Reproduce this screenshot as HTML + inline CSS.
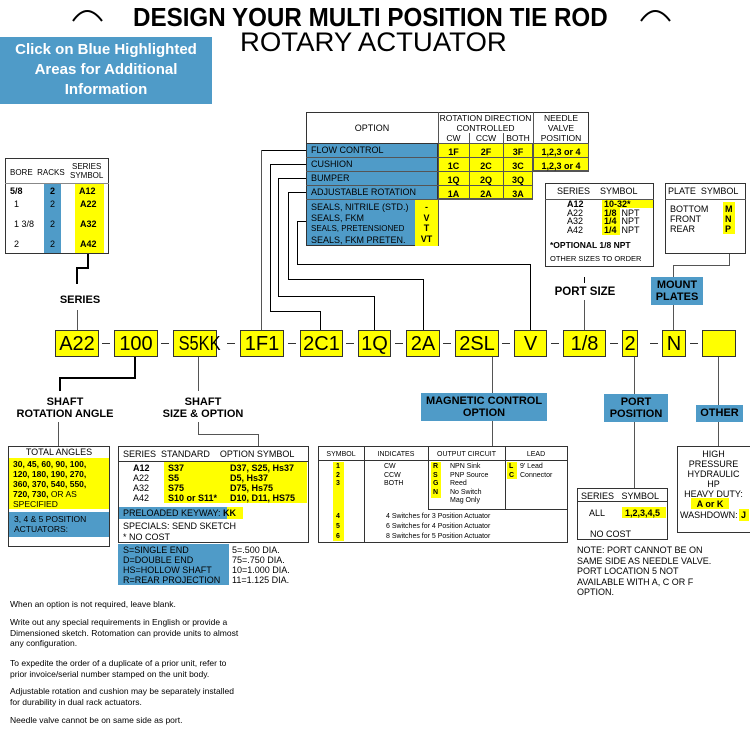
<!DOCTYPE html>
<html><head><meta charset="utf-8">
<style>
*{margin:0;padding:0;box-sizing:border-box}
body{width:750px;height:730px;background:#fff;position:relative;overflow:hidden;font-family:"Liberation Sans",Arial,sans-serif;color:#000}
.a{position:absolute}
.h{position:absolute;height:1px;background:#000}
.v{position:absolute;width:1px;background:#000}
.blue{background:#4f9bc8}
.yel{background:#ffff00}
.code{position:absolute;top:330px;height:27px;background:#ffff00;border:1px solid #333;font-size:20px;text-align:center;line-height:26px;white-space:nowrap}
.dash{position:absolute;top:343px;width:8px;height:1px;background:#333}
.lbl{position:absolute;font-weight:bold;font-size:11px;text-align:center;line-height:12px}
.bx{position:absolute;border:1px solid #333;background:#fff}
.t{position:absolute;font-size:9px;line-height:10px;white-space:nowrap}
.b{font-weight:bold}
.m{font-size:7px}
</style></head><body>

<!-- title -->
<svg class="a" style="left:70px;top:5px" width="36" height="18"><path d="M3 16 Q17 -4 32 16" fill="none" stroke="#000" stroke-width="2"/></svg>
<svg class="a" style="left:638px;top:5px" width="36" height="18"><path d="M3 16 Q17 -4 32 16" fill="none" stroke="#000" stroke-width="2"/></svg>
<div class="a b" style="left:133px;top:3px;font-size:26px;line-height:28px;white-space:nowrap;transform:scaleX(0.93);transform-origin:0 0;width:600px">DESIGN YOUR MULTI POSITION TIE ROD</div>
<div class="a" style="left:240px;top:28px;font-size:27px;line-height:28px;white-space:nowrap;transform:scaleX(1.02);transform-origin:0 0">ROTARY ACTUATOR</div>
<div class="a blue b" style="left:0;top:37px;width:212px;height:67px;color:#fff;font-size:15px;line-height:20px;text-align:center;padding-top:3px">Click on Blue Highlighted<br>Areas for Additional<br>Information</div>

<!-- bore table -->
<div class="bx" style="left:5px;top:158px;width:104px;height:96px"></div>
<div class="h" style="left:5px;top:183px;width:104px;background:#888"></div>
<div class="a blue" style="left:44px;top:184px;width:17px;height:69px"></div>
<div class="a yel" style="left:75px;top:184px;width:29px;height:69px"></div>
<div class="t" style="left:10px;top:168px;font-size:8px">BORE&nbsp; RACKS</div>
<div class="t" style="left:70px;top:162px;font-size:8px;line-height:9px;text-align:center">SERIES<br>SYMBOL</div>
<div class="t b" style="left:10px;top:186px">5/8</div><div class="t b" style="left:50px;top:186px">2</div><div class="t b" style="left:79px;top:186px">A12</div>
<div class="t" style="left:14px;top:199px">1</div><div class="t" style="left:50px;top:199px">2</div><div class="t b" style="left:80px;top:199px">A22</div>
<div class="t" style="left:14px;top:219px">1 3/8</div><div class="t" style="left:50px;top:219px">2</div><div class="t b" style="left:80px;top:219px">A32</div>
<div class="t" style="left:14px;top:239px">2</div><div class="t" style="left:50px;top:239px">2</div><div class="t b" style="left:80px;top:239px">A42</div>
<div class="v" style="left:87px;top:254px;height:14px;width:2px"></div>
<div class="h" style="left:76px;top:267px;width:13px;height:2px"></div>
<div class="v" style="left:76px;top:267px;height:17px;width:2px"></div>
<div class="lbl" style="left:50px;top:294px;width:60px">SERIES</div>
<div class="v" style="left:77px;top:310px;height:20px;background:#555"></div>

<!-- codes -->
<div class="code" style="left:55px;width:44px">A22</div>
<div class="dash" style="left:102px"></div>
<div class="code" style="left:114px;width:44px">100</div>
<div class="dash" style="left:161px"></div>
<div class="code" style="left:173px;width:44px"><span style="display:inline-block;transform:scaleX(0.82)">S5KK</span></div>
<div class="dash" style="left:227px"></div>
<div class="code" style="left:240px;width:44px">1F1</div>
<div class="dash" style="left:288px"></div>
<div class="code" style="left:300px;width:43px">2C1</div>
<div class="dash" style="left:346px"></div>
<div class="code" style="left:358px;width:33px">1Q</div>
<div class="dash" style="left:395px"></div>
<div class="code" style="left:406px;width:34px">2A</div>
<div class="dash" style="left:443px"></div>
<div class="code" style="left:455px;width:44px">2SL</div>
<div class="dash" style="left:502px"></div>
<div class="code" style="left:514px;width:33px">V</div>
<div class="dash" style="left:551px"></div>
<div class="code" style="left:563px;width:43px">1/8</div>
<div class="dash" style="left:610px"></div>
<div class="code" style="left:622px;width:16px">2</div>
<div class="dash" style="left:650px"></div>
<div class="code" style="left:662px;width:24px">N</div>
<div class="dash" style="left:690px"></div>
<div class="code" style="left:702px;width:34px"></div>

<!-- option table -->
<div class="bx" style="left:306px;top:112px;width:283px;height:60px"></div>
<div class="t" style="left:306px;top:123px;width:132px;text-align:center">OPTION</div>
<div class="v" style="left:438px;top:112px;height:134px;background:#555"></div>
<div class="v" style="left:533px;top:112px;height:60px;background:#555"></div>
<div class="t" style="left:438px;top:113px;width:95px;text-align:center;font-size:8.5px;line-height:10px">ROTATION DIRECTION<br>CONTROLLED</div>
<div class="t" style="left:438px;top:133px;width:31px;text-align:center;font-size:8.5px">CW</div>
<div class="t" style="left:469px;top:133px;width:34px;text-align:center;font-size:8.5px">CCW</div>
<div class="t" style="left:503px;top:133px;width:30px;text-align:center;font-size:8.5px">BOTH</div>
<div class="t" style="left:533px;top:113px;width:56px;text-align:center;font-size:8.5px;line-height:10px">NEEDLE<br>VALVE<br>POSITION</div>
<div class="a blue" style="left:306px;top:143px;width:132px;height:103px;border:1px solid #333"></div>
<div class="a yel" style="left:438px;top:143px;width:95px;height:56px;border:1px solid #555"></div>
<div class="a yel" style="left:533px;top:143px;width:56px;height:28px;border:1px solid #555"></div>
<div class="a yel" style="left:415px;top:199px;width:23px;height:47px"></div>
<div class="h" style="left:306px;top:157px;width:283px;background:#555"></div>
<div class="h" style="left:306px;top:171px;width:283px;background:#555"></div>
<div class="h" style="left:306px;top:185px;width:227px;background:#555"></div>
<div class="h" style="left:306px;top:199px;width:227px;background:#555"></div>
<div class="v" style="left:469px;top:133px;height:66px;background:#555"></div>
<div class="v" style="left:503px;top:133px;height:66px;background:#555"></div>
<div class="t" style="left:311px;top:145px">FLOW CONTROL</div>
<div class="t" style="left:311px;top:159px">CUSHION</div>
<div class="t" style="left:311px;top:173px">BUMPER</div>
<div class="t" style="left:311px;top:187px">ADJUSTABLE ROTATION</div>
<div class="t" style="left:311px;top:202px;line-height:10.5px">SEALS, NITRILE (STD.)<br>SEALS, FKM<br><span style="font-size:8px">SEALS, PRETENSIONED</span><br>SEALS, FKM PRETEN.</div>
<div class="t b" style="left:415px;top:202px;width:23px;text-align:center;line-height:10.5px">-<br>V<br>T<br>VT</div>
<div class="t b" style="left:438px;top:145px;width:31px;text-align:center;line-height:14px">1F<br>1C<br>1Q<br>1A</div>
<div class="t b" style="left:469px;top:145px;width:34px;text-align:center;line-height:14px">2F<br>2C<br>2Q<br>2A</div>
<div class="t b" style="left:503px;top:145px;width:30px;text-align:center;line-height:14px">3F<br>3C<br>3Q<br>3A</div>
<div class="t b" style="left:533px;top:145px;width:56px;text-align:center;line-height:14px">1,2,3 or 4<br>1,2,3 or 4</div>

<!-- option connectors -->
<div class="h" style="left:261px;top:150px;width:45px"></div>
<div class="v" style="left:261px;top:150px;height:180px;background:#555"></div>
<div class="h" style="left:270px;top:164px;width:36px"></div>
<div class="v" style="left:270px;top:164px;height:147px"></div>
<div class="h" style="left:270px;top:311px;width:51px"></div>
<div class="v" style="left:320px;top:311px;height:19px"></div>
<div class="h" style="left:278px;top:178px;width:28px"></div>
<div class="v" style="left:278px;top:178px;height:118px"></div>
<div class="h" style="left:278px;top:296px;width:97px"></div>
<div class="v" style="left:374px;top:296px;height:34px"></div>
<div class="h" style="left:288px;top:192px;width:18px"></div>
<div class="v" style="left:288px;top:192px;height:87px"></div>
<div class="h" style="left:288px;top:279px;width:136px"></div>
<div class="v" style="left:423px;top:279px;height:51px"></div>
<div class="h" style="left:297px;top:221px;width:9px"></div>
<div class="v" style="left:297px;top:221px;height:43px"></div>
<div class="h" style="left:297px;top:264px;width:234px"></div>
<div class="v" style="left:530px;top:264px;height:66px"></div>

<!-- port size table -->
<div class="bx" style="left:545px;top:183px;width:109px;height:84px"></div>
<div class="h" style="left:545px;top:199px;width:109px;background:#555"></div>
<div class="t" style="left:557px;top:186px">SERIES&nbsp;&nbsp;&nbsp;&nbsp;SYMBOL</div>
<div class="a yel" style="left:602px;top:200px;width:51px;height:8px"></div>
<div class="a yel" style="left:602px;top:208px;width:18px;height:27px"></div>
<div class="t" style="left:567px;top:200px;line-height:8.5px"><b>A12</b><br>A22<br>A32<br>A42</div>
<div class="t" style="left:604px;top:200px;line-height:8.5px"><b>10-32*</b><br><b>1/8</b>&nbsp; NPT<br><b>1/4</b>&nbsp; NPT<br><b>1/4</b>&nbsp; NPT</div>
<div class="t b" style="left:550px;top:240px;font-size:8.5px">*OPTIONAL 1/8 NPT</div>
<div class="t" style="left:550px;top:254px;font-size:7.5px">OTHER SIZES TO ORDER</div>
<div class="v" style="left:584px;top:277px;height:6px"></div>
<div class="lbl" style="left:545px;top:286px;width:80px;font-size:11.5px">PORT SIZE</div>
<div class="v" style="left:584px;top:300px;height:30px;background:#555"></div>

<!-- plate table -->
<div class="bx" style="left:665px;top:183px;width:81px;height:71px"></div>
<div class="h" style="left:665px;top:199px;width:81px;background:#555"></div>
<div class="t" style="left:668px;top:186px">PLATE&nbsp; SYMBOL</div>
<div class="a yel" style="left:723px;top:202px;width:12px;height:32px"></div>
<div class="t" style="left:670px;top:204px;line-height:10px">BOTTOM<br>FRONT<br>REAR</div>
<div class="t b" style="left:725px;top:204px;line-height:10px">M<br>N<br>P</div>
<div class="v" style="left:729px;top:254px;height:12px;background:#555"></div>
<div class="h" style="left:673px;top:265px;width:57px;background:#555"></div>
<div class="v" style="left:673px;top:265px;height:65px;background:#555"></div>
<div class="a blue lbl" style="left:651px;top:277px;width:52px;height:28px;padding-top:2px">MOUNT<br>PLATES</div>

<!-- shaft rotation angle -->
<div class="v" style="left:134px;top:357px;height:21px;width:2px"></div>
<div class="h" style="left:59px;top:377px;width:77px;height:2px"></div>
<div class="v" style="left:59px;top:377px;height:14px;width:2px"></div>
<div class="lbl" style="left:5px;top:396px;width:120px">SHAFT<br>ROTATION ANGLE</div>
<div class="v" style="left:58px;top:422px;height:24px;background:#555"></div>
<div class="bx" style="left:8px;top:446px;width:102px;height:101px"></div>
<div class="t" style="left:8px;top:447px;width:102px;text-align:center">TOTAL ANGLES</div>
<div class="a yel" style="left:9px;top:458px;width:100px;height:51px"></div>
<div class="t b" style="left:13px;top:459px;line-height:10px;font-size:8.5px">30, 45, 60, 90, 100,<br>120, 180, 190, 270,<br>360, 370, 540, 550,<br>720, 730, <span style="font-weight:normal">OR AS<br>SPECIFIED</span></div>
<div class="a blue" style="left:9px;top:512px;width:100px;height:25px"></div>
<div class="t" style="left:14px;top:514px;line-height:10px;font-size:8.5px">3, 4 &amp; 5 POSITION<br>ACTUATORS:</div>

<!-- shaft size -->
<div class="v" style="left:198px;top:357px;height:34px;background:#555"></div>
<div class="lbl" style="left:143px;top:396px;width:120px">SHAFT<br>SIZE &amp; OPTION</div>
<div class="v" style="left:198px;top:422px;height:13px;background:#555"></div>
<div class="h" style="left:198px;top:434px;width:61px;background:#555"></div>
<div class="v" style="left:258px;top:434px;height:12px;background:#555"></div>
<div class="bx" style="left:118px;top:446px;width:191px;height:97px"></div>
<div class="h" style="left:118px;top:461px;width:191px;background:#333"></div>
<div class="t" style="left:123px;top:449px">SERIES&nbsp; STANDARD&nbsp;&nbsp;&nbsp; OPTION SYMBOL</div>
<div class="a yel" style="left:164px;top:462px;width:143px;height:41px"></div>
<div class="t" style="left:133px;top:463px;line-height:10px"><b>A12</b><br>A22<br>A32<br>A42</div>
<div class="t b" style="left:168px;top:463px;line-height:10px">S37<br>S5<br>S75<br>S10 or S11*</div>
<div class="t b" style="left:230px;top:463px;line-height:10px">D37, S25, Hs37<br>D5, Hs37<br>D75, Hs75<br>D10, D11, HS75</div>
<div class="a blue" style="left:119px;top:507px;width:108px;height:12px"></div>
<div class="a yel" style="left:227px;top:507px;width:16px;height:12px"></div>
<div class="t" style="left:123px;top:508px">PRELOADED KEYWAY: <b>KK</b></div>
<div class="t" style="left:123px;top:521px;line-height:11px">SPECIALS: SEND SKETCH<br>* NO COST</div>
<div class="a blue" style="left:118px;top:544px;width:111px;height:41px"></div>
<div class="t" style="left:123px;top:545px;line-height:10px">S=SINGLE END<br>D=DOUBLE END<br>HS=HOLLOW SHAFT<br>R=REAR PROJECTION</div>
<div class="t" style="left:232px;top:545px;line-height:10px">5=.500 DIA.<br>75=.750 DIA.<br>10=1.000 DIA.<br>11=1.125 DIA.</div>

<!-- magnetic -->
<div class="v" style="left:492px;top:357px;height:36px;background:#555"></div>
<div class="a blue lbl" style="left:421px;top:393px;width:126px;height:28px;padding-top:2px">MAGNETIC CONTROL<br>OPTION</div>
<div class="v" style="left:492px;top:421px;height:25px;background:#555"></div>
<div class="bx" style="left:318px;top:446px;width:250px;height:97px"></div>
<div class="h" style="left:318px;top:460px;width:250px;background:#333"></div>
<div class="v" style="left:364px;top:446px;height:97px;background:#333"></div>
<div class="v" style="left:428px;top:446px;height:63px;background:#333"></div>
<div class="v" style="left:505px;top:446px;height:63px;background:#333"></div>
<div class="h" style="left:428px;top:509px;width:140px;background:#333"></div>
<div class="t m" style="left:318px;top:450px;width:46px;text-align:center">SYMBOL</div>
<div class="t m" style="left:364px;top:450px;width:64px;text-align:center">INDICATES</div>
<div class="t m" style="left:428px;top:450px;width:77px;text-align:center">OUTPUT CIRCUIT</div>
<div class="t m" style="left:505px;top:450px;width:62px;text-align:center">LEAD</div>
<div class="a yel" style="left:333px;top:462px;width:11px;height:79px"></div>
<div class="t b m" style="left:336px;top:463px;line-height:8.5px">1<br>2<br>3</div>
<div class="t b m" style="left:336px;top:512px;line-height:10px">4<br>5<br>6</div>
<div class="t m" style="left:384px;top:463px;line-height:8.5px">CW<br>CCW<br>BOTH</div>
<div class="a yel" style="left:431px;top:462px;width:10px;height:36px"></div>
<div class="t b m" style="left:433px;top:463px;line-height:8.5px">R<br>S<br>G<br>N</div>
<div class="t m" style="left:450px;top:463px;line-height:8.5px">NPN Sink<br>PNP Source<br>Reed<br>No Switch<br>Mag Only</div>
<div class="a yel" style="left:507px;top:462px;width:10px;height:17px"></div>
<div class="t b m" style="left:509px;top:463px;line-height:8.5px">L<br>C</div>
<div class="t m" style="left:520px;top:463px;line-height:8.5px">9' Lead<br>Connector</div>
<div class="t m" style="left:386px;top:512px;line-height:10px">4 Switches for 3 Position Actuator<br>6 Switches for 4 Position Actuator<br>8 Switches for 5 Position Actuator</div>

<!-- port position -->
<div class="v" style="left:634px;top:357px;height:37px;background:#555"></div>
<div class="a blue lbl" style="left:604px;top:394px;width:64px;height:28px;padding-top:2px">PORT<br>POSITION</div>
<div class="v" style="left:634px;top:422px;height:66px;background:#555"></div>
<div class="bx" style="left:577px;top:488px;width:91px;height:52px"></div>
<div class="h" style="left:577px;top:501px;width:91px;background:#333"></div>
<div class="t" style="left:581px;top:491px">SERIES&nbsp;&nbsp; SYMBOL</div>
<div class="a yel" style="left:622px;top:507px;width:44px;height:11px"></div>
<div class="t" style="left:589px;top:508px">ALL</div>
<div class="t b" style="left:625px;top:508px">1,2,3,4,5</div>
<div class="t" style="left:590px;top:529px">NO COST</div>
<div class="t" style="left:577px;top:545px;line-height:10.5px">NOTE: PORT CANNOT BE ON<br>SAME SIDE AS NEEDLE VALVE.<br>PORT LOCATION 5 NOT<br>AVAILABLE WITH A, C OR F<br>OPTION.</div>

<!-- other -->
<div class="v" style="left:718px;top:357px;height:48px;background:#555"></div>
<div class="a blue lbl" style="left:696px;top:405px;width:47px;height:17px;padding-top:2px">OTHER</div>
<div class="v" style="left:718px;top:422px;height:24px;background:#555"></div>
<div class="bx" style="left:677px;top:446px;width:75px;height:87px"></div>
<div class="t" style="left:677px;top:449px;width:73px;text-align:center;line-height:10px">HIGH<br>PRESSURE<br>HYDRAULIC<br>HP<br>HEAVY DUTY:</div>
<div class="a yel" style="left:691px;top:498px;width:38px;height:11px"></div>
<div class="t b" style="left:691px;top:499px;width:38px;text-align:center">A or K</div>
<div class="t" style="left:680px;top:510px">WASHDOWN:</div>
<div class="a yel" style="left:739px;top:509px;width:10px;height:12px"></div>
<div class="t b" style="left:741px;top:510px">J</div>

<!-- notes -->
<div class="t" style="left:10px;top:599px;line-height:10.5px;font-size:8.5px">When an option is not required, leave blank.</div>
<div class="t" style="left:10px;top:617px;line-height:10.5px;font-size:8.5px">Write out any special requirements in English or provide a<br>Dimensioned sketch. Rotomation can provide units to almost<br>any configuration.</div>
<div class="t" style="left:10px;top:658px;line-height:10.5px;font-size:8.5px">To expedite the order of a duplicate of a prior unit, refer to<br>prior invoice/serial number stamped on the unit body.</div>
<div class="t" style="left:10px;top:686px;line-height:10.5px;font-size:8.5px">Adjustable rotation and cushion may be separately installed<br>for durability in dual rack actuators.</div>
<div class="t" style="left:10px;top:715px;line-height:10.5px;font-size:8.5px">Needle valve cannot be on same side as port.</div>

</body></html>
